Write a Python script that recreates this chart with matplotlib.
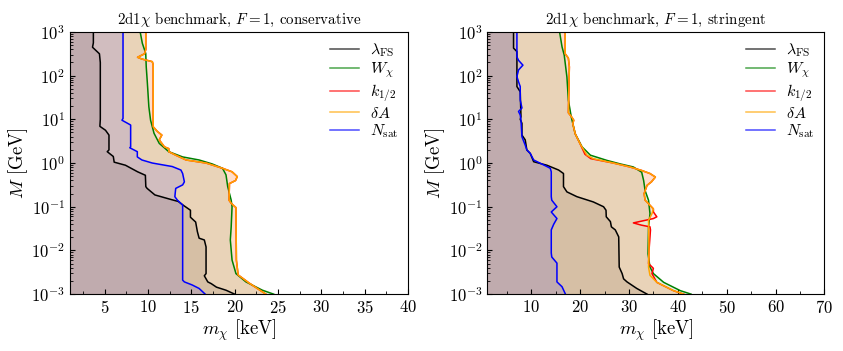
import numpy as np
import matplotlib
matplotlib.use("Agg")
import matplotlib.pyplot as plt
from matplotlib.ticker import LogLocator, NullFormatter, MultipleLocator

plt.rcParams["font.family"] = "serif"
plt.rcParams["font.serif"] = ["cmr10", "DejaVu Serif"]
plt.rcParams["mathtext.fontset"] = "cm"
plt.rcParams["axes.formatter.use_mathtext"] = True

# ---- conservative panel: (m_chi [keV], log10 M [GeV]) ----
cons_lfs = [(3.7, 3.0), (3.7, 2.75), (3.6, 2.65), (4.4, 2.5), (4.5, 2.3), (4.5, 1.0),
            (4.45, 0.84), (5.1, 0.75), (5.5, 0.64), (5.5, 0.3), (5.3, 0.26), (6.0, 0.15),
            (6.1, 0.02), (7.4, -0.05), (8.8, -0.2), (9.7, -0.28), (9.75, -0.54), (9.9, -0.58),
            (10.8, -0.73), (12.4, -0.82), (13.5, -0.88), (14.1, -0.97), (14.9, -1.08),
            (14.9, -1.24), (15.5, -1.35), (15.7, -1.57), (15.9, -1.72), (16.5, -1.76),
            (16.7, -1.92), (16.7, -2.53), (16.5, -2.58), (16.7, -2.65), (16.9, -2.72),
            (17.3, -2.76), (17.9, -2.84), (19.0, -2.91), (20.0, -3.0)]
cons_w = [(9.1, 3.0), (9.35, 2.74), (9.74, 2.51), (9.8, 2.2), (9.93, 1.83), (10.1, 1.29),
          (10.3, 0.98), (10.7, 0.68), (11.3, 0.45), (12.4, 0.26), (14.0, 0.14), (15.9, 0.07),
          (17.4, -0.02), (18.6, -0.12), (19.0, -0.27), (19.2, -0.54), (19.6, -0.85),
          (19.7, -1.0), (19.6, -1.46), (19.5, -1.76), (19.7, -2.22), (20.15, -2.53),
          (21.3, -2.72), (23.2, -2.91), (24.5, -3.0)]
cons_da = [(9.75, 3.0), (9.75, 2.6), (9.6, 2.5), (8.8, 2.42), (9.3, 2.38), (10.5, 2.32),
           (10.6, 2.25), (10.6, 0.83), (11.1, 0.72), (11.6, 0.64), (11.3, 0.53), (11.9, 0.37),
           (12.4, 0.33), (12.4, 0.26), (13.2, 0.18), (14.4, 0.07), (16.7, 0.0), (18.6, -0.12),
           (19.7, -0.2), (20.3, -0.31), (20.1, -0.4), (19.4, -0.47), (19.35, -0.85),
           (19.6, -0.92), (20.15, -1.02), (20.2, -2.22), (20.4, -2.56), (21.7, -2.75),
           (23.6, -3.0)]
cons_k = cons_da
cons_ns = [(7.12, 3.0), (7.12, 1.02), (7.0, 0.98), (8.0, 0.87), (8.0, 0.37), (7.9, 0.35),
           (8.77, 0.26), (8.77, 0.14), (9.3, 0.07), (10.5, 0.0), (12.8, -0.08), (13.8, -0.16),
           (14.0, -0.24), (14.2, -0.43), (14.0, -0.5), (13.2, -0.58), (13.1, -0.77),
           (13.4, -0.85), (14.0, -0.96), (14.0, -2.68), (14.2, -2.72), (15.1, -2.79),
           (15.9, -2.87), (16.6, -3.0)]

# ---- stringent panel ----
str_lfs = [(6.38, 3.0), (6.38, 2.63), (7.07, 2.55), (7.07, 1.75), (7.75, 1.63), (7.9, 1.06),
           (7.75, 1.0), (8.1, 0.91), (8.1, 0.64), (8.77, 0.53), (9.1, 0.3), (9.8, 0.22),
           (10.5, 0.03), (13.2, -0.05), (15.6, -0.16), (16.6, -0.24), (16.6, -0.54),
           (17.3, -0.66), (19.35, -0.77), (22.7, -0.89), (24.8, -1.0), (25.3, -1.08),
           (25.35, -1.23), (26.2, -1.34), (26.4, -1.46), (27.2, -1.53), (27.9, -1.69),
           (28.0, -2.38), (28.6, -2.53), (28.9, -2.65), (29.6, -2.72), (31.6, -2.87),
           (33.7, -3.0)]
str_w = [(15.8, 3.0), (16.3, 2.66), (16.75, 2.47), (17.3, 1.97), (17.6, 1.44), (18.2, 1.05),
         (19.0, 0.67), (20.4, 0.37), (22.1, 0.18), (25.5, 0.06), (28.2, -0.02), (30.9, -0.09),
         (32.6, -0.21), (33.0, -0.4), (33.3, -0.63), (34.0, -0.85), (34.3, -1.16),
         (34.0, -1.47), (33.9, -2.08), (34.3, -2.38), (35.0, -2.53), (37.1, -2.73),
         (40.5, -2.92), (42.7, -3.0)]
str_da = [(16.95, 3.0), (16.95, 2.5), (17.6, 2.4), (17.8, 2.2), (17.6, 1.15), (18.3, 1.05),
          (18.7, 0.98), (18.5, 0.9), (19.0, 0.67), (19.3, 0.6), (20.0, 0.44), (21.4, 0.18),
          (22.7, 0.1), (26.8, 0.0), (30.2, -0.09), (32.6, -0.17), (34.3, -0.24), (35.4, -0.32),
          (34.6, -0.43), (33.7, -0.51), (33.1, -0.7), (33.3, -0.85), (34.0, -0.93),
          (35.0, -1.05), (34.7, -1.16), (34.0, -1.31), (34.1, -2.0), (34.0, -2.38),
          (34.3, -2.57), (35.7, -2.73), (39.1, -2.92), (41.2, -3.0)]
str_k = [(16.95, 3.0), (16.95, 2.5), (17.6, 2.4), (17.8, 2.2), (17.6, 1.15), (18.3, 1.05),
         (18.7, 0.98), (18.5, 0.9), (19.0, 0.67), (19.3, 0.6), (20.0, 0.44), (21.0, 0.2),
         (22.2, 0.1), (26.8, 0.0), (30.2, -0.09), (32.6, -0.17), (34.3, -0.24), (35.4, -0.32),
         (34.6, -0.43), (33.7, -0.51), (33.1, -0.7), (33.3, -0.85), (34.0, -0.93),
         (35.0, -1.05), (35.0, -1.12), (35.7, -1.23), (35.0, -1.27), (30.9, -1.37),
         (32.5, -1.42), (34.3, -1.46), (34.4, -1.53), (34.1, -2.0), (34.0, -2.3),
         (35.0, -2.41), (34.7, -2.53), (35.7, -2.73), (39.1, -2.92), (41.2, -3.0)]
str_ns = [(7.07, 3.0), (7.07, 2.43), (7.4, 2.35), (8.3, 2.24), (7.4, 2.13), (7.07, 1.98),
          (7.4, 1.86), (7.75, 1.75), (7.75, 1.44), (8.1, 1.26), (7.4, 1.18), (7.75, 1.1),
          (7.9, 0.98), (8.1, 0.6), (8.77, 0.41), (9.1, 0.3), (9.8, 0.22), (10.5, 0.07),
          (13.2, -0.08), (13.9, -0.12), (14.1, -0.2), (14.1, -0.77), (14.2, -0.85),
          (15.26, -1.0), (14.1, -1.12), (15.26, -1.27), (14.6, -1.4), (14.1, -1.53),
          (14.1, -2.06), (14.2, -2.15), (15.26, -2.29), (15.26, -2.72), (16.3, -2.83),
          (17.0, -3.0)]

labels = [r"$\lambda_{\rm FS}$", r"$W_\chi$", r"$k_{1/2}$", r"$\delta A$", r"$N_{\rm sat}$"]
colors = ["k", "g", "r", "orange", "b"]

panels = [
    ("conservative", [cons_lfs, cons_w, cons_k, cons_da, cons_ns], 40,
     [5, 10, 15, 20, 25, 30, 35, 40], 2.5),
    ("stringent", [str_lfs, str_w, str_k, str_da, str_ns], 70,
     [10, 20, 30, 40, 50, 60, 70], 5),
]
positions = [[0.083, 0.162, 0.401, 0.747], [0.578, 0.162, 0.400, 0.747]]

fig = plt.figure(figsize=(8.43, 3.51), dpi=100)
for (name, curves, xmax, xticks, xminor), pos in zip(panels, positions):
    ax = fig.add_axes(pos)
    for curve, c, lab in zip(curves, colors, labels):
        arr = np.array(curve)
        mx, M = arr[:, 0], 10 ** arr[:, 1]
        ax.fill_betweenx(M, 0, mx, color=c, alpha=0.1, lw=0)
        ax.plot(mx, M, color=c, lw=1.1, label=lab)
    ax.set_yscale("log")
    ax.set_xlim(1, xmax)
    ax.set_ylim(1e-3, 1e3)
    ax.set_xticks(xticks)
    ax.xaxis.set_minor_locator(MultipleLocator(xminor))
    ax.yaxis.set_major_locator(LogLocator(base=10, numticks=10))
    ax.yaxis.set_minor_locator(LogLocator(base=10, subs=np.arange(2, 10), numticks=10))
    ax.yaxis.set_minor_formatter(NullFormatter())
    ax.tick_params(axis="both", which="both", direction="in", labelsize=12)
    ax.set_xlabel(r"$m_\chi$ [keV]", fontsize=13.5, labelpad=1)
    ax.set_ylabel(r"$M$ [GeV]", fontsize=13.5, labelpad=1)
    ax.set_title(r"2d1$\chi$ benchmark, $F=1$, " + name, fontsize=10.8)
    leg = ax.legend(loc="upper right", frameon=False, fontsize=11.5, handlelength=1.8,
                    handletextpad=0.7, labelspacing=0.1, borderaxespad=0.2,
                    bbox_to_anchor=(1.0, 1.0))
    for h in leg.legend_handles:
        h.set_alpha(0.7)

fig.savefig("out.png", dpi=100)
